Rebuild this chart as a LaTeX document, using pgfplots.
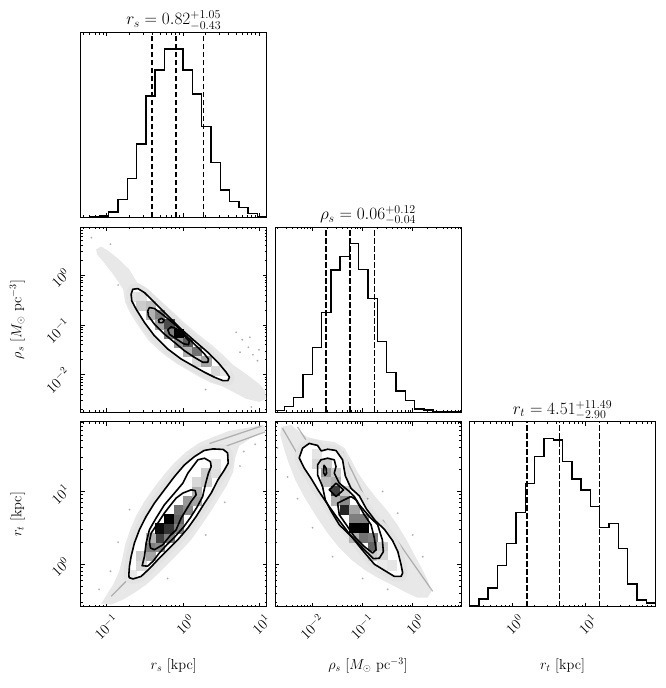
\documentclass[border=0pt]{standalone}
\usepackage{pgfplots}
\pgfplotsset{compat=1.18}
\newcommand\tickfont{\fontsize{14.4}{16}\selectfont}
\newcommand\labfont{\fontsize{14.4}{16}\selectfont}
\newcommand\titfont{\fontsize{17.28}{20}\selectfont}
\pgfplotsset{
  cb/.style={scale only axis, width=186pt, height=185pt, anchor=south west,
    clip marker paths=true,
    tick align=inside, tick pos=both, major tick length=4pt, minor tick length=2.2pt,
    tick style={black, line width=0.6pt},
    axis line style={line width=0.8pt},
    tick label style={font=\tickfont},
    xticklabel style={xshift=5pt, yshift=-6pt, rotate=45, anchor=north east, inner sep=0pt},
    yticklabel style={xshift=-9pt, rotate=45, anchor=south east, inner sep=0pt},
    colormap={bw}{gray(0cm)=(1); gray(1cm)=(0)},
  },
  rsx/.style={xmin=-1.341, xmax=1.101, xtick={-1,0,1},
    minor xtick={-1.301,-1.222,-1.155,-1.097,-1.046,-0.699,-0.523,-0.398,-0.301,-0.222,-0.155,-0.097,-0.046,0.301,0.477,0.602,0.699,0.778,0.845,0.903,0.954},
    xticklabels={$10^{-1}$,$10^{0}$,$10^{1}$}},
  rhox/.style={xmin=-2.75, xmax=0.965, xtick={-2,-1,0},
    minor xtick={-2.699,-2.523,-2.398,-2.301,-2.222,-2.155,-2.097,-2.046,-1.699,-1.523,-1.398,-1.301,-1.222,-1.155,-1.097,-1.046,-0.699,-0.523,-0.398,-0.301,-0.222,-0.155,-0.097,-0.046,0.301,0.477,0.602,0.699,0.778,0.845,0.903,0.954},
    xticklabels={$10^{-2}$,$10^{-1}$,$10^{0}$}},
  rtx/.style={xmin=-0.59, xmax=1.96, xtick={0,1},
    minor xtick={-0.523,-0.398,-0.301,-0.222,-0.155,-0.097,-0.046,0.301,0.477,0.602,0.699,0.778,0.845,0.903,0.954,1.301,1.477,1.602,1.699,1.778,1.845,1.903,1.954},
    xticklabels={$10^{0}$,$10^{1}$}},
  rhoy/.style={ymin=-2.75, ymax=0.965, ytick={-2,-1,0},
    minor ytick={-2.699,-2.523,-2.398,-2.301,-2.222,-2.155,-2.097,-2.046,-1.699,-1.523,-1.398,-1.301,-1.222,-1.155,-1.097,-1.046,-0.699,-0.523,-0.398,-0.301,-0.222,-0.155,-0.097,-0.046,0.301,0.477,0.602,0.699,0.778,0.845,0.903,0.954},
    yticklabels={$10^{-2}$,$10^{-1}$,$10^{0}$}},
  rty/.style={ymin=-0.59, ymax=1.96, ytick={0,1},
    minor ytick={-0.523,-0.398,-0.301,-0.222,-0.155,-0.097,-0.046,0.301,0.477,0.602,0.699,0.778,0.845,0.903,0.954,1.301,1.477,1.602,1.699,1.778,1.845,1.903,1.954},
    yticklabels={$10^{0}$,$10^{1}$}},
  hist/.style={ymin=0, ytick=\empty},
  sq/.style={scatter, only marks, mark=square*, mark size=4.65pt, point meta=explicit,
    point meta min=0, point meta max=1,
    scatter/use mapped color={draw=mapped color, fill=mapped color}, line width=0.2pt},
  ct/.style={black, line width=1.6pt, line join=round},
  halo/.style={black!11, line width=10pt, line join=round},
  hl/.style={black, line width=1.4pt, const plot},
  dl/.style={black, line width=1.5pt, dash pattern=on 5.5pt off 2.5pt},
  cloud/.style={fill=black!9, draw=none},
  streak/.style={black!45, line width=1.3pt, opacity=0.6},
  dots/.style={only marks, mark=*, mark size=0.8pt, black, opacity=0.2},
}
\begin{document}
\begin{tikzpicture}
\useasboundingbox (0pt,0pt) rectangle (665pt,688pt);

% ---------- r_s histogram ----------
\begin{axis}[cb, at={(80.7pt,470.5pt)}, rsx, xticklabels={}, hist, ymax=554]
\addplot[hl] coordinates {(-1.341,0) (-1.341,0) (-1.2189,1) (-1.0968,4) (-0.9747,17) (-0.8526,54) (-0.7305,117) (-0.6084,220) (-0.4863,364) (-0.3642,442) (-0.2421,504) (-0.1200,504) (0.0021,442) (0.1242,370) (0.2463,272) (0.3684,165) (0.4905,82) (0.6126,47) (0.7347,30) (0.8568,12) (0.9789,2) (1.101,2) (1.101,0)};
\addplot[dl] coordinates {(-0.407,0) (-0.407,554)};
\addplot[dl] coordinates {(-0.088,0) (-0.088,554)};
\addplot[dl] coordinates {(0.271,0) (0.271,554)};
\end{axis}

% ---------- rho_s vs r_s ----------
\begin{axis}[cb, at={(80.7pt,276pt)}, rsx, xticklabels={}, rhoy]
\addplot[cloud] coordinates {(-1.139,0.514) (-1.073,0.574) (-0.968,0.474) (-0.837,0.314) (-0.705,0.114) (-0.600,-0.146) (-0.443,-0.306) (-0.311,-0.486) (-0.141,-0.726) (0.043,-0.986) (0.214,-1.206) (0.398,-1.426) (0.529,-1.606) (0.661,-1.806) (0.831,-1.986) (1.002,-2.186) (1.081,-2.326) (1.094,-2.486) (1.002,-2.546) (0.831,-2.486) (0.661,-2.346) (0.503,-2.226) (0.372,-2.166) (0.240,-2.066) (0.083,-1.926) (-0.075,-1.786) (-0.259,-1.586) (-0.443,-1.326) (-0.574,-1.046) (-0.692,-0.766) (-0.758,-0.546) (-0.784,-0.286) (-0.915,0.014) (-1.047,0.274) (-1.125,0.414)} --cycle;
\addplot[dots] coordinates {(0.70,-1.15) (0.78,-1.30) (0.86,-1.45) (0.92,-1.60) (0.98,-1.72) (0.75,-1.55) (0.88,-1.25) (1.0,-1.5) (-1.2,0.75) (-0.95,0.62) (-0.85,-0.2) (0.3,-2.3) (0.9,-2.65)};
\addplot[halo] coordinates {(-0.679,-0.386) (-0.657,-0.286) (-0.591,-0.272) (-0.504,-0.352) (-0.373,-0.552) (-0.197,-0.820) (-0.022,-1.086) (0.152,-1.320) (0.328,-1.552) (0.460,-1.752) (0.569,-1.952) (0.612,-2.052) (0.591,-2.120) (0.525,-2.120) (0.415,-2.052) (0.284,-1.952) (0.131,-1.820) (-0.022,-1.686) (-0.197,-1.486) (-0.373,-1.220) (-0.504,-0.952) (-0.613,-0.686) (-0.670,-0.520)} --cycle;
\addplot[fill=white, draw=none] coordinates {(-0.679,-0.386) (-0.657,-0.286) (-0.591,-0.272) (-0.504,-0.352) (-0.373,-0.552) (-0.197,-0.820) (-0.022,-1.086) (0.152,-1.320) (0.328,-1.552) (0.460,-1.752) (0.569,-1.952) (0.612,-2.052) (0.591,-2.120) (0.525,-2.120) (0.415,-2.052) (0.284,-1.952) (0.131,-1.820) (-0.022,-1.686) (-0.197,-1.486) (-0.373,-1.220) (-0.504,-0.952) (-0.613,-0.686) (-0.670,-0.520)} --cycle;
\addplot[sq] coordinates {(-0.6695,-0.4281) [0.1] (-0.5474,-0.4281) [0.12] (-0.5474,-0.6139) [0.2] (-0.4253,-0.6139) [0.25] (-0.4253,-0.7996) [0.3] (-0.3032,-0.7996) [0.5] (-0.3032,-0.9854) [0.35] (-0.1811,-0.9854) [0.7] (-0.1811,-1.1711) [0.5] (-0.0590,-1.1711) [1.0] (-0.0590,-1.3569) [0.4] (0.0631,-1.3569) [0.65] (0.0631,-1.5426) [0.3] (0.1852,-1.5426) [0.55] (0.1852,-1.7284) [0.15] (0.3073,-1.7284) [0.35] (0.4294,-1.9141) [0.15] (0.5515,-1.9141) [0.08]};
\addplot[ct] coordinates {(-0.679,-0.386) (-0.657,-0.286) (-0.591,-0.272) (-0.504,-0.352) (-0.373,-0.552) (-0.197,-0.820) (-0.022,-1.086) (0.152,-1.320) (0.328,-1.552) (0.460,-1.752) (0.569,-1.952) (0.612,-2.052) (0.591,-2.120) (0.525,-2.120) (0.415,-2.052) (0.284,-1.952) (0.131,-1.820) (-0.022,-1.686) (-0.197,-1.486) (-0.373,-1.220) (-0.504,-0.952) (-0.613,-0.686) (-0.670,-0.520)} --cycle;
\addplot[ct] coordinates {(-0.460,-0.720) (-0.439,-0.652) (-0.373,-0.672) (-0.242,-0.820) (-0.110,-0.986) (0.021,-1.186) (0.152,-1.386) (0.284,-1.586) (0.336,-1.686) (0.328,-1.752) (0.263,-1.752) (0.152,-1.652) (0.021,-1.520) (-0.110,-1.352) (-0.242,-1.186) (-0.373,-0.986) (-0.452,-0.820)} --cycle;
\addplot[ct] coordinates {(-0.197,-1.10) (-0.154,-1.04) (-0.09,-1.07) (0.0,-1.19) (0.085,-1.33) (0.075,-1.40) (0.01,-1.38) (-0.09,-1.28) (-0.175,-1.19)} --cycle;
\addplot[ct] coordinates {(-0.32,-0.90) (-0.28,-0.87) (-0.245,-0.905) (-0.265,-0.955) (-0.31,-0.955)} --cycle;
\end{axis}

% ---------- rho_s histogram ----------
\begin{axis}[cb, at={(275pt,276pt)}, rhox, xticklabels={}, hist, ymax=555]
\addplot[hl] coordinates {(-2.75,0) (-2.75,4) (-2.5643,16) (-2.3785,44) (-2.1928,113) (-2.0070,193) (-1.8213,298) (-1.6355,426) (-1.4498,466) (-1.2640,506) (-1.0783,428) (-0.8925,341) (-0.7068,211) (-0.5210,119) (-0.3353,63) (-0.1495,34) (0.0363,9) (0.2220,6) (0.4078,2) (0.5935,1) (0.7793,0) (0.965,0)};
\addplot[dl] coordinates {(-1.73,0) (-1.73,555)};
\addplot[dl] coordinates {(-1.25,0) (-1.25,555)};
\addplot[dl] coordinates {(-0.765,0) (-0.765,555)};
\end{axis}

% ---------- r_t vs r_s ----------
\begin{axis}[cb, at={(80.7pt,81.2pt)}, rsx, rty]
\addplot[cloud] coordinates {(-1.073,-0.546) (-1.007,-0.436) (-0.915,-0.285) (-0.837,-0.106) (-0.797,0.059) (-0.758,0.265) (-0.692,0.472) (-0.613,0.664) (-0.508,0.857) (-0.390,1.036) (-0.259,1.215) (-0.114,1.393) (0.043,1.545) (0.214,1.669) (0.398,1.751) (0.608,1.834) (0.831,1.875) (1.054,1.916) (1.094,1.847) (0.897,1.737) (0.739,1.627) (0.687,1.462) (0.661,1.270) (0.582,1.091) (0.477,0.912) (0.372,0.733) (0.240,0.527) (0.109,0.334) (-0.049,0.155) (-0.206,-0.010) (-0.351,-0.161) (-0.482,-0.285) (-0.613,-0.381) (-0.784,-0.491) (-0.942,-0.560)} --cycle;
\addplot[streak] coordinates {(0.35,1.66) (1.03,1.90)};
\addplot[streak] coordinates {(0.45,1.58) (1.08,1.82)};
\addplot[streak] coordinates {(-0.94,-0.445) (-0.55,-0.03)};
\addplot[dots] coordinates {(-1.1,-0.35) (-0.95,-0.1) (-0.85,0.3) (-0.7,0.75) (0.75,1.35) (0.8,1.55) (0.55,0.85) (0.3,0.4) (-0.2,-0.2) (0.95,1.65)};
\addplot[halo] coordinates {(-0.709,-0.147) (-0.701,-0.033) (-0.679,0.105) (-0.636,0.289) (-0.570,0.472) (-0.482,0.655) (-0.373,0.839) (-0.242,1.022) (-0.110,1.205) (0.021,1.366) (0.152,1.480) (0.280,1.565) (0.398,1.586) (0.529,1.579) (0.588,1.531) (0.595,1.389) (0.546,1.297) (0.460,1.159) (0.372,0.977) (0.284,0.839) (0.175,0.655) (0.066,0.495) (-0.066,0.334) (-0.197,0.197) (-0.328,0.059) (-0.439,-0.065) (-0.548,-0.171) (-0.653,-0.206) (-0.705,-0.188)} --cycle;
\addplot[fill=white, draw=none] coordinates {(-0.709,-0.147) (-0.701,-0.033) (-0.679,0.105) (-0.636,0.289) (-0.570,0.472) (-0.482,0.655) (-0.373,0.839) (-0.242,1.022) (-0.110,1.205) (0.021,1.366) (0.152,1.480) (0.280,1.565) (0.398,1.586) (0.529,1.579) (0.588,1.531) (0.595,1.389) (0.546,1.297) (0.460,1.159) (0.372,0.977) (0.284,0.839) (0.175,0.655) (0.066,0.495) (-0.066,0.334) (-0.197,0.197) (-0.328,0.059) (-0.439,-0.065) (-0.548,-0.171) (-0.653,-0.206) (-0.705,-0.188)} --cycle;
\addplot[sq] coordinates {(-0.6695,-0.1438) [0.08] (-0.5474,-0.0163) [0.15] (-0.5474,0.1113) [0.2] (-0.4253,0.1113) [0.35] (-0.4253,0.2388) [0.5] (-0.3032,0.2388) [0.45] (-0.3032,0.3663) [0.75] (-0.4253,0.3663) [0.3] (-0.3032,0.4938) [0.95] (-0.1811,0.3663) [0.5] (-0.1811,0.4938) [0.8] (-0.1811,0.6213) [1.0] (-0.0590,0.4938) [0.5] (-0.0590,0.6213) [0.6] (-0.0590,0.7488) [0.55] (0.0631,0.7488) [0.45] (0.0631,0.8763) [0.4] (0.1852,0.8763) [0.35] (0.1852,1.0038) [0.3] (0.1852,1.1313) [0.15] (0.3073,1.1313) [0.2] (0.3073,1.2588) [0.2] (0.4294,1.2588) [0.12] (0.4294,1.3863) [0.1]};
\addplot[ct] coordinates {(-0.709,-0.147) (-0.701,-0.033) (-0.679,0.105) (-0.636,0.289) (-0.570,0.472) (-0.482,0.655) (-0.373,0.839) (-0.242,1.022) (-0.110,1.205) (0.021,1.366) (0.152,1.480) (0.280,1.565) (0.398,1.586) (0.529,1.579) (0.588,1.531) (0.595,1.389) (0.546,1.297) (0.460,1.159) (0.372,0.977) (0.284,0.839) (0.175,0.655) (0.066,0.495) (-0.066,0.334) (-0.197,0.197) (-0.328,0.059) (-0.439,-0.065) (-0.548,-0.171) (-0.653,-0.206) (-0.705,-0.188)} --cycle;
\addplot[ct] coordinates {(0.197,1.436) (0.284,1.458) (0.362,1.411) (0.372,1.343) (0.336,1.252) (0.30,1.114) (0.26,0.93) (0.19,0.79) (0.10,0.64) (0.01,0.51) (-0.10,0.38) (-0.21,0.265) (-0.31,0.15) (-0.39,0.04) (-0.462,-0.030) (-0.534,-0.023) (-0.504,0.105) (-0.482,0.289) (-0.439,0.472) (-0.351,0.633) (-0.242,0.816) (-0.110,0.977) (0.000,1.114) (0.066,1.252) (0.131,1.343)} --cycle;
\addplot[ct] coordinates {(0.109,1.022) (0.162,1.012) (0.175,0.953) (0.109,0.861) (0.043,0.747) (-0.022,0.633) (-0.088,0.472) (-0.176,0.380) (-0.263,0.265) (-0.373,0.197) (-0.425,0.220) (-0.439,0.311) (-0.416,0.426) (-0.328,0.564) (-0.242,0.702) (-0.176,0.792) (-0.088,0.908) (0.000,0.977)} --cycle;
\end{axis}

% ---------- r_t vs rho_s ----------
\begin{axis}[cb, at={(275pt,81.2pt)}, rhox, rty, yticklabels={}]
\addplot[cloud] coordinates {(-2.626,1.889) (-2.426,1.916) (-2.266,1.820) (-2.106,1.751) (-1.866,1.710) (-1.566,1.682) (-1.366,1.600) (-1.226,1.435) (-1.106,1.270) (-0.946,1.105) (-0.746,0.926) (-0.506,0.733) (-0.306,0.541) (-0.126,0.334) (0.034,0.128) (0.174,-0.051) (0.294,-0.216) (0.374,-0.381) (0.294,-0.464) (0.094,-0.464) (-0.166,-0.381) (-0.426,-0.285) (-0.706,-0.188) (-0.966,-0.078) (-1.226,0.059) (-1.466,0.224) (-1.706,0.431) (-1.946,0.678) (-2.166,0.926) (-2.346,1.160) (-2.486,1.407) (-2.586,1.627) (-2.646,1.779)} --cycle;
\addplot[streak] coordinates {(-2.60,1.87) (-2.23,1.43)};
\addplot[streak] coordinates {(-2.30,1.89) (-2.00,1.57)};
\addplot[streak] coordinates {(-1.40,1.549) (-0.866,0.793)};
\addplot[streak] coordinates {(-0.60,0.609) (0.40,-0.377)};
\addplot[dots] coordinates {(-2.5,1.2) (-2.3,0.9) (-2.0,0.5) (-1.6,0.1) (-0.9,0.9) (-0.6,1.0) (-0.3,0.7) (0.0,0.4) (0.2,0.1) (-1.0,-0.2) (-0.5,-0.35) (-2.7,1.6)};
\addplot[halo] coordinates {(-2.266,1.462) (-2.200,1.596) (-2.066,1.662) (-1.900,1.634) (-1.826,1.558) (-1.700,1.582) (-1.532,1.565) (-1.400,1.435) (-1.346,1.215) (-1.232,1.043) (-1.066,0.939) (-0.926,0.761) (-0.746,0.596) (-0.566,0.479) (-0.400,0.320) (-0.296,0.169) (-0.232,-0.010) (-0.200,-0.124) (-0.232,-0.171) (-0.366,-0.171) (-0.532,-0.102) (-0.766,-0.003) (-1.026,0.210) (-1.266,0.417) (-1.486,0.616) (-1.686,0.809) (-1.886,1.015) (-2.032,1.183) (-2.166,1.321)} --cycle;
\addplot[fill=white, draw=none] coordinates {(-2.266,1.462) (-2.200,1.596) (-2.066,1.662) (-1.900,1.634) (-1.826,1.558) (-1.700,1.582) (-1.532,1.565) (-1.400,1.435) (-1.346,1.215) (-1.232,1.043) (-1.066,0.939) (-0.926,0.761) (-0.746,0.596) (-0.566,0.479) (-0.400,0.320) (-0.296,0.169) (-0.232,-0.010) (-0.200,-0.124) (-0.232,-0.171) (-0.366,-0.171) (-0.532,-0.102) (-0.766,-0.003) (-1.026,0.210) (-1.266,0.417) (-1.486,0.616) (-1.686,0.809) (-1.886,1.015) (-2.032,1.183) (-2.166,1.321)} --cycle;
\addplot[sq] coordinates {(-1.9141,1.5138) [0.1] (-1.9141,1.3863) [0.15] (-1.7284,1.3863) [0.2] (-1.7284,1.2588) [0.4] (-1.7284,1.1313) [0.25] (-1.5426,1.2588) [0.2] (-1.5426,1.1313) [0.3] (-1.5426,1.0038) [0.75] (-1.5426,0.8763) [0.3] (-1.3569,1.0038) [0.2] (-1.3569,0.8763) [0.45] (-1.3569,0.7488) [0.85] (-1.1711,0.7488) [0.35] (-1.1711,0.6213) [0.5] (-1.1711,0.4938) [1.0] (-1.1711,0.3663) [0.3] (-0.9854,0.6213) [0.5] (-0.9854,0.4938) [1.0] (-0.9854,0.3663) [0.55] (-0.7996,0.3663) [0.5] (-0.7996,0.2388) [0.6] (-0.7996,0.1113) [0.2] (-0.6139,0.2388) [0.2] (-0.6139,0.1113) [0.15] (-0.6139,-0.0163) [0.08] (-0.4281,-0.0163) [0.1]};
\addplot[ct] coordinates {(-2.266,1.462) (-2.200,1.596) (-2.066,1.662) (-1.900,1.634) (-1.826,1.558) (-1.700,1.582) (-1.532,1.565) (-1.400,1.435) (-1.346,1.215) (-1.232,1.043) (-1.066,0.939) (-0.926,0.761) (-0.746,0.596) (-0.566,0.479) (-0.400,0.320) (-0.296,0.169) (-0.232,-0.010) (-0.200,-0.124) (-0.232,-0.171) (-0.366,-0.171) (-0.532,-0.102) (-0.766,-0.003) (-1.026,0.210) (-1.266,0.417) (-1.486,0.616) (-1.686,0.809) (-1.886,1.015) (-2.032,1.183) (-2.166,1.321)} --cycle;
\addplot[ct] coordinates {(-1.832,1.436) (-1.700,1.458) (-1.566,1.436) (-1.532,1.343) (-1.566,1.252) (-1.466,1.114) (-1.266,0.999) (-1.166,0.930) (-1.066,0.816) (-0.866,0.655) (-0.700,0.541) (-0.606,0.334) (-0.586,0.169) (-0.666,0.080) (-0.786,0.073) (-0.966,0.200) (-1.166,0.340) (-1.466,0.541) (-1.626,0.724) (-1.746,0.884) (-1.800,1.067) (-1.900,1.228) (-1.900,1.366)} --cycle;
\addplot[ct] coordinates {(-1.500,0.839) (-1.232,0.930) (-1.132,0.884) (-0.966,0.678) (-0.832,0.541) (-0.766,0.358) (-0.732,0.197) (-0.800,0.151) (-0.966,0.240) (-1.166,0.380) (-1.326,0.541) (-1.466,0.678)} --cycle;
\addplot[ct] coordinates {(-1.532,1.114) (-1.38,1.022) (-1.532,0.930) (-1.666,1.022)} --cycle;
\addplot[ct] coordinates {(-1.77,1.36) (-1.73,1.32) (-1.72,1.25) (-1.75,1.22) (-1.78,1.26)} --cycle;
\end{axis}

% ---------- r_t histogram ----------
\begin{axis}[cb, at={(469.5pt,81.2pt)}, rtx, hist, ymax=556]
\addplot[hl] coordinates {(-0.59,0) (-0.59,4) (-0.4625,24) (-0.335,56) (-0.2075,124) (-0.08,191) (0.0475,283) (0.175,371) (0.3025,451) (0.43,506) (0.5575,501) (0.685,436) (0.8125,384) (0.94,351) (1.0675,301) (1.195,239) (1.3225,251) (1.45,176) (1.5775,69) (1.705,21) (1.8325,11) (1.96,11) (1.96,0)};
\addplot[dl] coordinates {(0.198,0) (0.198,556)};
\addplot[dl] coordinates {(0.645,0) (0.645,556)};
\addplot[dl] coordinates {(1.19,0) (1.19,556)};
\end{axis}

% titles
\node[anchor=base, font=\titfont] at (173.7pt,663pt) {$r_s = 0.82^{+1.05}_{-0.43}$};
\node[anchor=base, font=\titfont] at (368pt,468.5pt) {$\rho_s = 0.06^{+0.12}_{-0.04}$};
\node[anchor=base, font=\titfont] at (562.5pt,273.7pt) {$r_t = 4.51^{+11.49}_{-2.90}$};
% axis labels
\node[anchor=base, font=\labfont] at (173.7pt,18.5pt) {$r_s$ [kpc]};
\node[anchor=base, font=\labfont] at (368pt,18.5pt) {$\rho_s$ [$M_\odot$ pc$^{-3}$]};
\node[anchor=base, font=\labfont] at (562.5pt,18.5pt) {$r_t$ [kpc]};
\node[anchor=base, rotate=90, font=\labfont] at (21.4pt,368.5pt) {$\rho_s$ [$M_\odot$ pc$^{-3}$]};
\node[anchor=base, rotate=90, font=\labfont] at (21.4pt,173.7pt) {$r_t$ [kpc]};
\end{tikzpicture}
\end{document}
